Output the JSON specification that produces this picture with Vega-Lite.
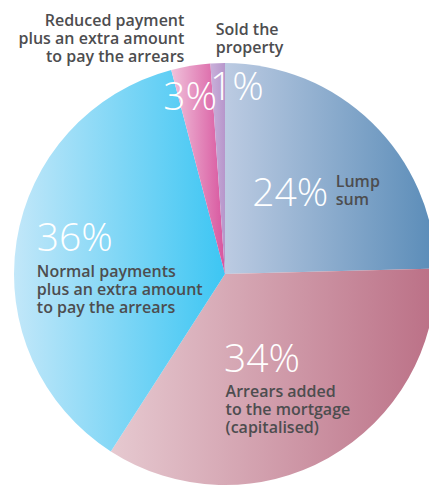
{
  "$schema": "https://vega.github.io/schema/vega-lite/v6.json",
  "width": 408,
  "height": 430,
  "autosize": {"type": "none"},
  "padding": {"left": 21, "top": 59, "right": 0, "bottom": 0},
  "background": "#ffffff",
  "view": {"stroke": null},
  "config": {"text": {"font": "Open Sans"}},
  "data": {
    "values": [
      {"idx": 1, "cat": "Lump", "value": 24.6, "pct": "24%", "label": "Lump\nsum"},
      {"idx": 2, "cat": "Arrears", "value": 34.5, "pct": "34%", "label": "Arrears added\nto the mortgage\n(capitalised)"},
      {"idx": 3, "cat": "Normal", "value": 36.8, "pct": "36%", "label": "Normal payments\nplus an extra amount\nto pay the arrears"},
      {"idx": 4, "cat": "Reduced", "value": 3.0, "pct": "3%", "label": "Reduced payment\nplus an extra amount\nto pay the arrears"},
      {"idx": 5, "cat": "Sold", "value": 1.1, "pct": "1%", "label": "Sold the\nproperty"}
    ]
  },
  "encoding": {
    "theta": {"field": "value", "type": "quantitative", "stack": true},
    "order": {"field": "idx", "type": "quantitative"},
    "detail": {"field": "cat", "type": "nominal"}
  },
  "layer": [
    {
      "mark": {"type": "arc", "outerRadius": 211},
      "encoding": {
        "color": {
          "condition": [
            {"test": "datum.cat === 'Lump'", "value": {"gradient": "linear", "x1": 0, "x2": 1, "y1": 0, "y2": 0, "stops": [{"offset": 0, "color": "#bccbe2"}, {"offset": 1, "color": "#5a8cb8"}]}},
            {"test": "datum.cat === 'Arrears'", "value": {"gradient": "linear", "x1": 0, "x2": 1, "y1": 0, "y2": 0, "stops": [{"offset": 0, "color": "#e6c9d0"}, {"offset": 1, "color": "#bb7086"}]}},
            {"test": "datum.cat === 'Normal'", "value": {"gradient": "linear", "x1": 0, "x2": 1, "y1": 0, "y2": 0, "stops": [{"offset": 0, "color": "#c2e7f9"}, {"offset": 1, "color": "#3dc6f3"}]}},
            {"test": "datum.cat === 'Reduced'", "value": {"gradient": "linear", "x1": 0, "x2": 1, "y1": 0, "y2": 0, "stops": [{"offset": 0, "color": "#f0c2db"}, {"offset": 1, "color": "#d8559e"}]}}
          ],
          "value": {"gradient": "linear", "x1": 0, "x2": 1, "y1": 0, "y2": 0, "stops": [{"offset": 0, "color": "#c9b1da"}, {"offset": 1, "color": "#b796cb"}]}
        }
      }
    },
    {
      "mark": {"type": "text", "radius": 105, "dx": -8, "dy": 7, "align": "center", "baseline": "alphabetic", "fontSize": 39, "fontWeight": 300, "color": "#ffffff"},
      "encoding": {"text": {"condition": {"test": "datum.cat === 'Lump'", "field": "pct"}, "value": ""}}
    },
    {
      "mark": {"type": "text", "radius": 110, "dx": -17, "dy": 2, "align": "center", "baseline": "alphabetic", "fontSize": 39, "fontWeight": 300, "color": "#ffffff"},
      "encoding": {"text": {"condition": {"test": "datum.cat === 'Arrears'", "field": "pct"}, "value": ""}}
    },
    {
      "mark": {"type": "text", "radius": 150, "dx": -2, "dy": 0, "align": "center", "baseline": "alphabetic", "fontSize": 39, "fontWeight": 300, "color": "#ffffff"},
      "encoding": {"text": {"condition": {"test": "datum.cat === 'Normal'", "field": "pct"}, "value": ""}}
    },
    {
      "mark": {"type": "text", "radius": 165, "dx": -8, "dy": -1, "align": "center", "baseline": "alphabetic", "fontSize": 39, "fontWeight": 300, "color": "#ffffff"},
      "encoding": {"text": {"condition": {"test": "datum.cat === 'Reduced'", "field": "pct"}, "value": ""}}
    },
    {
      "mark": {"type": "text", "radius": 175, "dx": 18, "dy": 1, "align": "center", "baseline": "alphabetic", "fontSize": 39, "fontWeight": 300, "color": "#ffffff"},
      "encoding": {"text": {"condition": {"test": "datum.cat === 'Sold'", "field": "pct"}, "value": ""}}
    },
    {
      "mark": {"type": "text", "radius": 130, "dx": 20, "dy": 6, "align": "left", "baseline": "alphabetic", "fontSize": 16, "fontWeight": 600, "lineHeight": 18, "lineBreak": "\n", "color": "#4d4d4f"},
      "encoding": {"text": {"condition": {"test": "datum.cat === 'Lump'", "field": "label"}, "value": ""}}
    },
    {
      "mark": {"type": "text", "radius": 140, "dx": -68, "dy": 1, "align": "left", "baseline": "alphabetic", "fontSize": 16, "fontWeight": 600, "lineHeight": 18, "lineBreak": "\n", "color": "#4d4d4f"},
      "encoding": {"text": {"condition": {"test": "datum.cat === 'Arrears'", "field": "label"}, "value": ""}}
    },
    {
      "mark": {"type": "text", "radius": 150, "dx": -40, "dy": 26, "align": "left", "baseline": "alphabetic", "fontSize": 16, "fontWeight": 600, "lineHeight": 18, "lineBreak": "\n", "color": "#4d4d4f"},
      "encoding": {"text": {"condition": {"test": "datum.cat === 'Normal'", "field": "label"}, "value": ""}}
    },
    {
      "mark": {"type": "text", "radius": 250, "dx": 0, "dy": -1, "align": "right", "baseline": "alphabetic", "fontSize": 16, "fontWeight": 600, "lineHeight": 18, "lineBreak": "\n", "color": "#4d4d4f"},
      "encoding": {"text": {"condition": {"test": "datum.cat === 'Reduced'", "field": "label"}, "value": ""}}
    },
    {
      "mark": {"type": "text", "radius": 240, "dx": -1, "dy": 1, "align": "left", "baseline": "alphabetic", "fontSize": 16, "fontWeight": 600, "lineHeight": 18, "lineBreak": "\n", "color": "#4d4d4f"},
      "encoding": {"text": {"condition": {"test": "datum.cat === 'Sold'", "field": "label"}, "value": ""}}
    }
  ]
}
